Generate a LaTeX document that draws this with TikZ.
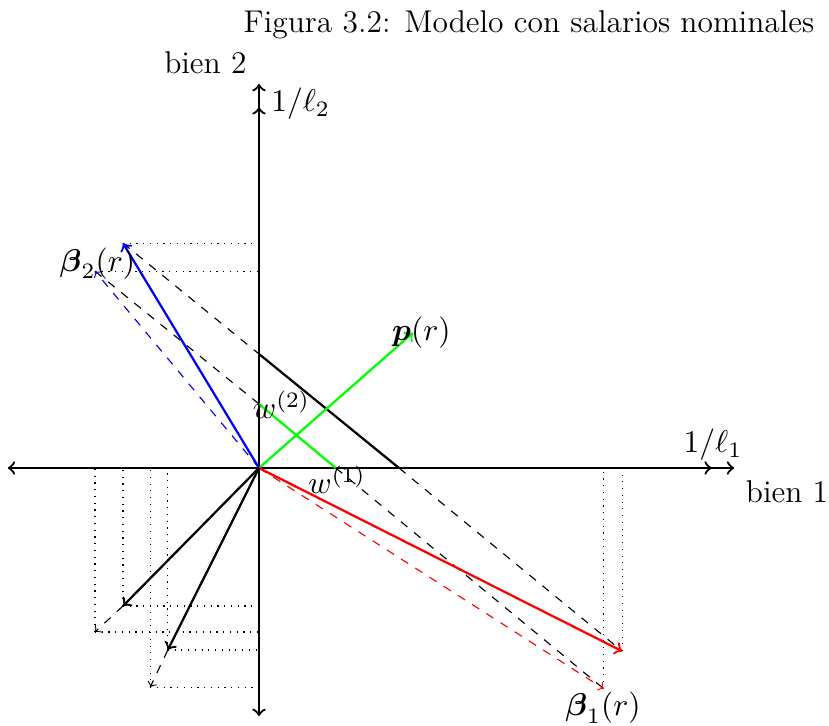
\RequirePackage{fix-cm}
\documentclass[tikz,border=0pt]{standalone}
\usepackage{amsmath,amsfonts,amssymb}
\usepackage{xcolor}
\usepackage{tikz}
\usetikzlibrary{arrows,positioning}

\begin{document}
\begin{tikzpicture}[
    axis/.style={thick},
    vec/.style={->, thick},
    ext/.style={->, dashed},
    guide/.style={dotted},
    budget/.style={thick},
    wline/.style={thick, green},
    lab/.style={font=\fontsize{11.2}{13.5}\selectfont}
]
\useasboundingbox (-3.2375,-3.225) rectangle (7.125,5.85);

% puntos
\coordinate (o) at (0,0);
\coordinate (xl) at (-3.14,0);
\coordinate (xr) at (5.94,0);
\coordinate (l1) at (5.66,0);
\coordinate (yb) at (0,-3.1);
\coordinate (yt) at (0,4.8);
\coordinate (l2) at (0,4.51);
\coordinate (w1) at (0.96,0);
\coordinate (w2) at (0,0.8);
\coordinate (p) at (1.925,1.69);
\coordinate (a2) at (0,1.425);
\coordinate (a1) at (1.75,0);
\coordinate (b2) at (-1.7,2.81);
\coordinate (b2d) at (-2.05,2.46);
\coordinate (b1) at (4.54,-2.29);
\coordinate (b1d) at (4.31,-2.76);
\coordinate (u) at (-1.7,-1.725);
\coordinate (ud) at (-2.05,-2.05);
\coordinate (v) at (-1.14,-2.275);
\coordinate (vd) at (-1.36,-2.74);

% ejes
\draw[axis, <->] (xl) -- (xr);
\draw[axis, ->] (o) -- (l1);
\draw[axis, <->] (yb) -- (yt);
\draw[axis, ->] (o) -- (l2);

% proyecciones
\draw[guide] (b2) -- (b2 -| o);
\draw[guide] (b2d) -- (b2d -| o);
\draw[guide] (b1) -- (b1 |- o);
\draw[guide] (b1d) -- (b1d |- o);
\draw[guide] (u) -- (u -| o);
\draw[guide] (u) -- (u |- o);
\draw[guide] (ud) -- (ud -| o);
\draw[guide] (ud) -- (ud |- o);
\draw[guide] (v) -- (v -| o);
\draw[guide] (v) -- (v |- o);
\draw[guide] (vd) -- (vd -| o);
\draw[guide] (vd) -- (vd |- o);

% rectas
\draw[dashed] (b2) -- (a2);
\draw[budget] (a2) -- (a1);
\draw[dashed] (a1) -- (b1);
\draw[dashed] (b2d) -- (w2);
\draw[wline] (w2) -- (w1);
\draw[dashed] (w1) -- (b1d);

% vectores
\draw[vec, green] (o) -- (p);
\draw[vec, blue] (o) -- (b2);
\draw[ext, blue] (o) -- (b2d);
\draw[vec, red] (o) -- (b1);
\draw[ext, red] (o) -- (b1d);
\draw[vec] (o) -- (u);
\draw[ext] (u) -- (ud);
\draw[vec] (o) -- (v);
\draw[ext] (v) -- (vd);

% etiquetas
\node[lab] (title) at (3.375,5.54) {Figura 3.2: Modelo con salarios nominales};
\node[lab] (bien2) at (-0.67,5.06) {bien 2};
\node[lab] (bien1) at (6.6,-0.3) {bien 1};
\node[lab] (ll1) at (5.675,0.29) {$1/\ell_1$};
\node[lab] (ll2) at (0.52,4.55) {$1/\ell_2$};
\node[lab] (lw1) at (0.975,-0.15) {$w^{(1)}$};
\node[lab] (lw2) at (0.28,0.79) {$w^{(2)}$};
\node[lab] (lp) at (2.03,1.69) {$\boldsymbol{p}(r)$};
\node[lab] (lbeta2) at (-2.02,2.56) {$\boldsymbol{\beta}_2(r)$};
\node[lab] (lbeta1) at (4.3,-3.0) {$\boldsymbol{\beta}_1(r)$};

\end{tikzpicture}
\end{document}
